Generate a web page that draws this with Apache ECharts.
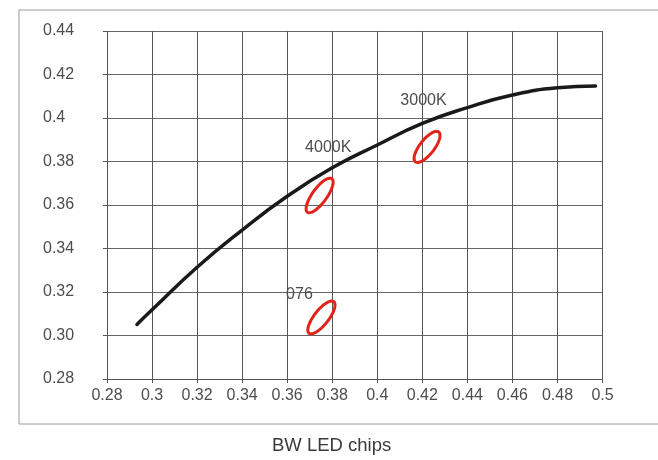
<!DOCTYPE html>
<html>
<head>
<meta charset="utf-8">
<script src="https://cdn.jsdelivr.net/npm/echarts@6/dist/echarts.min.js"></script>
<style>
  html, body { margin: 0; padding: 0; background: #fff; }
  #chart { width: 658px; height: 460px; }
</style>
</head>
<body>
<div id="chart"></div>
<script>
// Black-body locus (CIE x, y)
const locusX = [0.2933, 0.300, 0.320, 0.340, 0.360, 0.380, 0.400, 0.420, 0.440, 0.460, 0.480, 0.4969];
const locusY = [0.3051, 0.3118, 0.3314, 0.3485, 0.3640, 0.3771, 0.3876, 0.3975, 0.4048, 0.4106, 0.4139, 0.4147];

// Chip bins: centre, semi-axes (CIE units) and tilt in degrees
const binNames = ['4000K', '3000K', '076'];
const binCenterX = [0.3744, 0.4221, 0.3752];
const binCenterY = [0.3644, 0.3867, 0.3083];
const binSemiMajor = [0.0092, 0.0084, 0.0089];
const binSemiMinor = [0.0032, 0.0032, 0.0032];
const binTilt = [54, 52, 52];

const xTicks = [0.28, 0.50, 0.02];
const yTicks = [0.28, 0.44, 0.02];

// label placement relative to each ellipse centre (px)
const labelOffsets = [[-14.5, -47.5], [-26.7, -46], [-35.3, -22.5]];

const FONT = '"Liberation Sans", Arial, Helvetica, sans-serif';
const TEXT = '#4d4d4d';

const locusData = locusX.map((x, i) => [x, locusY[i]]);
const binData = binNames.map((n, i) => [binCenterX[i], binCenterY[i], binSemiMajor[i], binSemiMinor[i], binTilt[i], i]);

function renderBin(params, api) {
  const c = api.coord([api.value(0), api.value(1)]);
  const k = api.size([1, 0])[0];
  const A = api.value(2) * k;
  const B = api.value(3) * k;
  const th = api.value(4) * Math.PI / 180;
  const idx = api.value(5);
  const pts = [];
  const n = 72;
  for (let j = 0; j < n; j++) {
    const t = j / n * Math.PI * 2;
    const ex = A * Math.cos(t), ey = B * Math.sin(t);
    pts.push([c[0] + ex * Math.cos(th) - ey * Math.sin(th),
              c[1] - (ex * Math.sin(th) + ey * Math.cos(th))]);
  }
  const off = labelOffsets[idx];
  return {
    type: 'group',
    children: [
      { type: 'polygon', shape: { points: pts },
        style: { fill: 'none', stroke: '#e2231a', lineWidth: 3 } },
      { type: 'text', x: c[0] + off[0], y: c[1] + off[1],
        style: { text: binNames[idx], fill: TEXT, font: '16px ' + FONT,
                 textAlign: 'left', textVerticalAlign: 'middle' } }
    ]
  };
}

const chart = echarts.init(document.getElementById('chart'), null, { renderer: 'canvas' });
chart.setOption({
  animation: false,
  backgroundColor: '#fff',
  textStyle: { fontFamily: FONT },
  grid: { left: 107, top: 31, right: 55.5, bottom: 81, containLabel: false },
  graphic: [
    { type: 'rect', left: 16.5, top: 7.5, z: -10, silent: true,
      shape: { x: 0, y: 0, width: 700, height: 414 },
      style: { fill: 'none', stroke: '#9a9a9a', lineWidth: 1 } },
    { type: 'text', left: 272, top: 436, silent: true,
      style: { text: 'BW LED chips', fill: '#3a3a3a', font: '18.5px ' + FONT } }
  ],
  xAxis: {
    type: 'value', min: xTicks[0], max: xTicks[1], interval: xTicks[2],
    axisLine: { show: true, lineStyle: { color: '#555', width: 1 } },
    axisTick: { show: true, length: 4, lineStyle: { color: '#555' } },
    axisLabel: { color: TEXT, fontSize: 16, margin: 9, fontFamily: FONT,
                 formatter: v => String(+v.toFixed(2)) },
    splitLine: { show: true, lineStyle: { color: '#555', width: 1 } }
  },
  yAxis: {
    type: 'value', min: yTicks[0], max: yTicks[1], interval: yTicks[2],
    axisLine: { show: false },
    axisTick: { show: true, length: 4, lineStyle: { color: '#555' } },
    axisLabel: { color: TEXT, fontSize: 16, margin: 64, align: 'left', fontFamily: FONT,
                 formatter: v => { const s = +v.toFixed(2); return (s === 0.3) ? '0.30' : String(s); } },
    splitLine: { show: true, lineStyle: { color: '#666', width: 1 } }
  },
  series: [
    { type: 'line', data: locusData, smooth: 0.5, showSymbol: false,
      lineStyle: { color: '#1a1a1a', width: 3.5, cap: 'round' }, z: 3 },
    { type: 'custom', data: binData, renderItem: renderBin, z: 4,
      encode: { x: 0, y: 1 } }
  ]
});
</script>
</body>
</html>
